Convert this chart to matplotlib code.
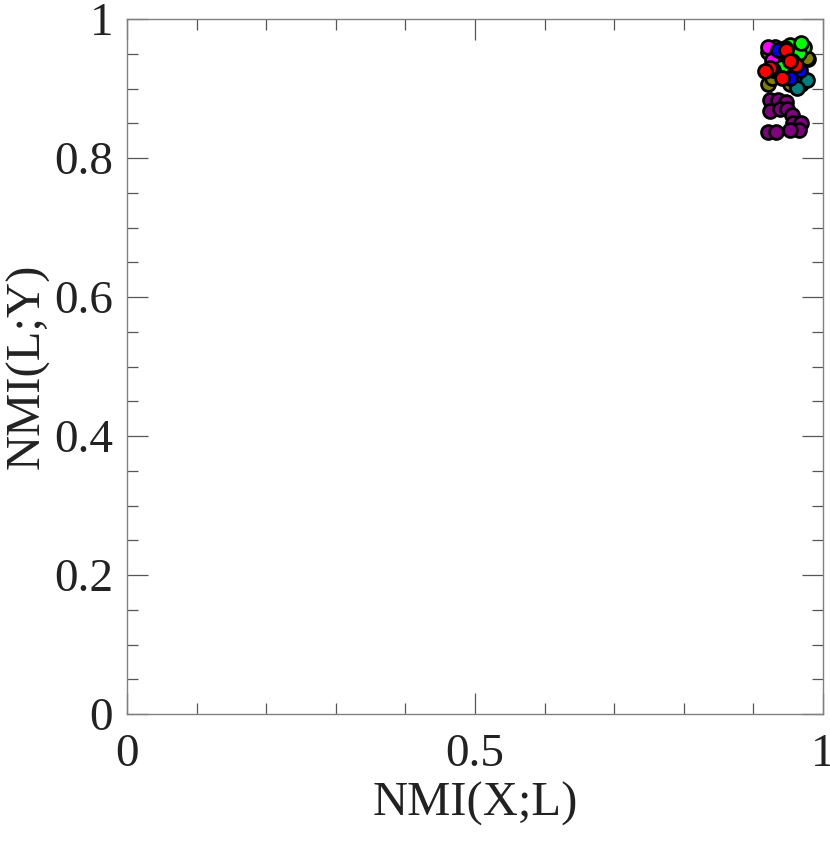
import matplotlib.pyplot as plt
from matplotlib.ticker import MultipleLocator

# NMI(X;L) / NMI(L;Y) pairs per group
red_x = [0.941, 0.924, 0.955, 0.947, 0.961, 0.917, 0.953]
red_y = [0.915, 0.929, 0.939, 0.955, 0.934, 0.925, 0.940]
green_x = [0.972, 0.962, 0.941, 0.953, 0.945, 0.965, 0.969]
green_y = [0.960, 0.948, 0.931, 0.963, 0.958, 0.951, 0.965]
blue_x = [0.936, 0.967, 0.953, 0.928]
blue_y = [0.955, 0.926, 0.915, 0.926]
magenta_x = [0.921, 0.931, 0.927]
magenta_y = [0.960, 0.946, 0.941]
olive_x = [0.921, 0.979, 0.921, 0.953, 0.938, 0.926, 0.977]
olive_y = [0.953, 0.943, 0.907, 0.907, 0.941, 0.915, 0.944]
teal_x = [0.943, 0.969, 0.977, 0.960, 0.931, 0.962, 0.945]
teal_y = [0.946, 0.907, 0.912, 0.919, 0.960, 0.901, 0.947]
purple_x = [0.924, 0.936, 0.947, 0.924, 0.938, 0.948, 0.955, 0.957, 0.969,
            0.965, 0.953, 0.921, 0.933]
purple_y = [0.884, 0.884, 0.880, 0.867, 0.870, 0.870, 0.862, 0.850, 0.850,
            0.841, 0.841, 0.838, 0.838]

groups = [
    (purple_x, purple_y, "#800080"),
    (olive_x, olive_y, "#808000"),
    (teal_x, teal_y, "#008080"),
    (magenta_x, magenta_y, "#ff00ff"),
    (green_x, green_y, "#00ff00"),
    (blue_x, blue_y, "#0000ff"),
    (red_x, red_y, "#ff0000"),
]

plt.rcParams["font.family"] = ["Liberation Serif", "DejaVu Serif"]

fig = plt.figure(figsize=(8.3, 8.42), dpi=100)
ax = fig.add_axes([0.153, 0.152, 0.8386, 0.8254])

for xs, ys, c in groups:
    ax.scatter(xs, ys, s=100, c=c, edgecolors="black", linewidths=2.0,
               zorder=3, clip_on=False)

ax.set_xlim(0, 1)
ax.set_ylim(0, 1)
ax.xaxis.set_major_locator(MultipleLocator(0.5))
ax.xaxis.set_minor_locator(MultipleLocator(0.1))
ax.yaxis.set_major_locator(MultipleLocator(0.2))
ax.yaxis.set_minor_locator(MultipleLocator(0.05))
ax.xaxis.set_major_formatter(lambda v, p: "%g" % v)
ax.yaxis.set_major_formatter(lambda v, p: "%g" % v)

for s in ax.spines.values():
    s.set_color("#808080")
    s.set_linewidth(1.0)
ax.tick_params(which="both", direction="in", top=True, right=True,
               color="#555555", width=0.9, labelsize=34, labelcolor="#222222")
ax.tick_params(which="major", length=15)
ax.tick_params(which="minor", length=8)
ax.tick_params(axis="x", which="major", pad=14)
ax.tick_params(axis="y", which="major", pad=10)

ax.set_xlabel("NMI(X;L)", fontsize=35, color="#222222", labelpad=4)
ax.set_ylabel("NMI(L;Y)", fontsize=35, color="#222222", labelpad=3)

fig.savefig("out.png", dpi=100)
